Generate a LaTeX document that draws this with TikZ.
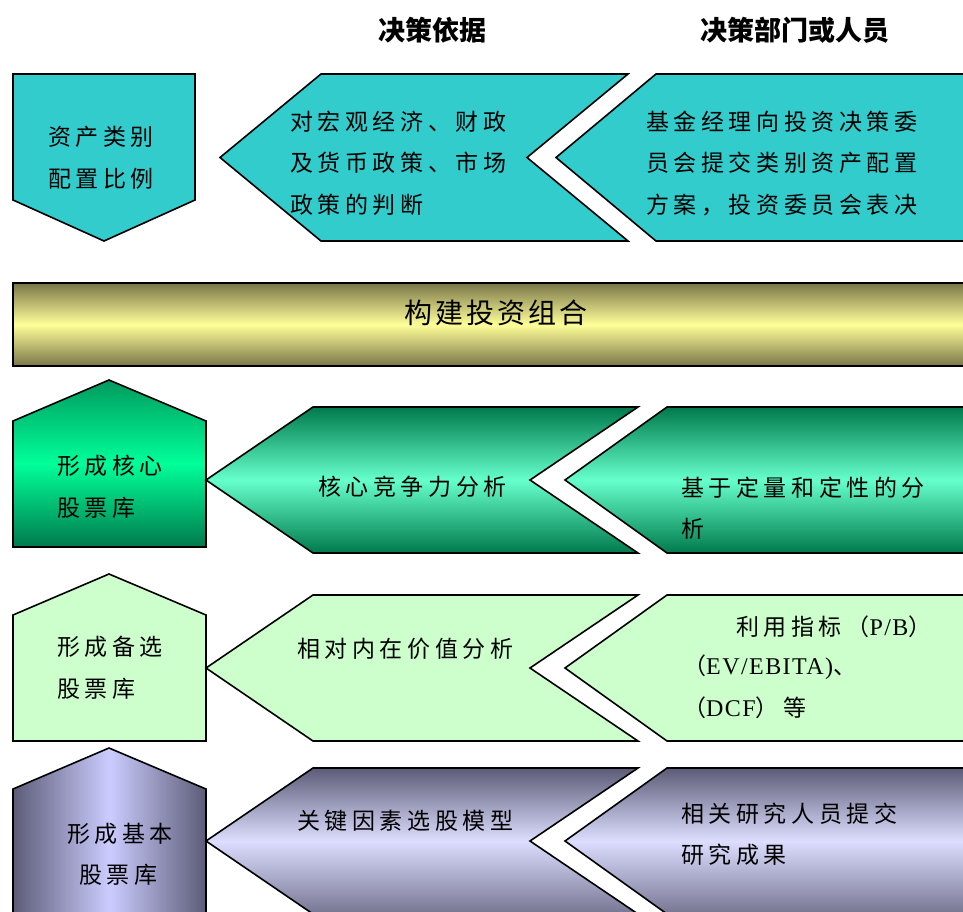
\documentclass[tikz,border=0pt]{standalone}
\usepackage{fontspec}
\newfontfamily\cjk[LetterSpace=20]{Noto Sans CJK SC}
\newfontfamily\cjkbar[LetterSpace=11]{Noto Sans CJK SC}
\newfontfamily\cjkhead{Noto Sans CJK SC}
\newfontfamily\lat[LetterSpace=6]{Liberation Serif}
\definecolor{cyanc}{HTML}{33CCCC}
\definecolor{olivedark}{HTML}{7A7648}
\definecolor{olivelight}{HTML}{FFFF99}
\definecolor{gdark}{HTML}{007A4C}
\definecolor{gbright}{HTML}{00FF99}
\definecolor{glight}{HTML}{66FFCC}
\definecolor{gtop}{HTML}{009A5E}
\definecolor{palegreen}{HTML}{CCFFCC}
\definecolor{pdark}{HTML}{5C5C78}
\definecolor{plight}{HTML}{CCCCFF}
\definecolor{plight2}{HTML}{DDDDFF}
\tikzset{
  shp/.style={draw=black, line width=1.6pt, line join=miter},
  cyanshape/.style={shp, fill=cyanc},
  oliveshade/.style={shp, top color=olivedark, bottom color=olivedark, middle color=olivelight},
  greenpent/.style={shp, top color=gtop, bottom color=gdark, middle color=gbright},
  greenchev/.style={shp, top color=gdark, bottom color=gdark, middle color=glight},
  paleshape/.style={shp, fill=palegreen},
  purplepent/.style={shp, left color=pdark, right color=pdark, middle color=plight},
  purplechev/.style={shp, top color=pdark, bottom color=pdark!80!plight2, middle color=plight2},
  txt/.style={inner sep=0pt, anchor=west, align=left, font=\fontsize{23}{41.5}\cjk},
  latin/.style={},
  head/.style={inner sep=0pt, font=\fontsize{27}{32}\cjkhead\bfseries},
}
\newcommand{\latt}[1]{{\lat\fontsize{24}{28}\selectfont #1}}
\begin{document}
\begin{tikzpicture}[x=1pt, y=-1pt]
\useasboundingbox (0,0) rectangle (963,911);
\clip (0,0) rectangle (963,911);
\fill[white] (0,0) rectangle (963,911);

% headers
\node[head] (h1) at (432,30) {决策依据};
\node[head] (h2) at (795,30) {决策部门或人员};

% row 1
\path[cyanshape] (13,74) -- (195,74) -- (195,200) -- (104,241) -- (13,200) -- cycle;
\path[cyanshape] (321,74) -- (628,74) -- (527,157.5) -- (628,241) -- (321,241) -- (220,157.5) -- cycle;
\path[cyanshape] (656,74) -- (990,74) -- (990,241) -- (656,241) -- (556,157.5) -- cycle;
\node[txt] (t1a) at (48,158) {资产类别\\配置比例};
\node[txt] (t1b) at (290,163) {对宏观经济、财政\\及货币政策、市场\\政策的判断};
\node[txt] (t1c) at (646,163) {基金经理向投资决策委\\员会提交类别资产配置\\方案，投资委员会表决};

% row 2
\path[oliveshade] (13,283) rectangle (990,366);
\node[inner sep=0pt, font=\fontsize{28}{32}\cjkbar] (t2) at (496,313) {构建投资组合};

% row 3
\path[greenpent] (109,380) -- (206,421) -- (206,547) -- (13,547) -- (13,421) -- cycle;
\path[greenchev] (313,407) -- (638,407) -- (530,480) -- (638,553) -- (313,553) -- (206,480) -- cycle;
\path[greenchev] (667,407) -- (990,407) -- (990,553) -- (667,553) -- (565,480) -- cycle;
\node[txt] (t3a) at (57,487) {形成核心\\股票库};
\node[txt] (t3b) at (318,487) {核心竞争力分析};
\node[txt] (t3c) at (681,508) {基于定量和定性的分\\析};

% row 4
\path[paleshape] (109,574) -- (206,615) -- (206,741) -- (13,741) -- (13,615) -- cycle;
\path[paleshape] (313,595) -- (638,595) -- (530,668) -- (638,741) -- (313,741) -- (206,668) -- cycle;
\path[paleshape] (667,595) -- (990,595) -- (990,741) -- (667,741) -- (565,668) -- cycle;
\node[txt] (t4a) at (57,668) {形成备选\\股票库};
\node[txt] (t4b) at (297,649) {相对内在价值分析};
\node[txt] (t4c1) at (736,627) {利用指标（\latt{P/B}）};
\node[txt] (t4c2) at (683,667) {（\latt{EV/EBITA)}、};
\node[txt] (t4c3) at (683,708) {（\latt{DCF}）等};

% row 5
\path[purplepent] (109,748) -- (206,789) -- (206,940) -- (13,940) -- (13,789) -- cycle;
\path[purplechev] (313,768) -- (638,768) -- (530,841) -- (638,914) -- (313,914) -- (206,841) -- cycle;
\path[purplechev] (667,768) -- (990,768) -- (990,914) -- (667,914) -- (565,841) -- cycle;
\node[txt] (t5a1) at (67,834) {形成基本};
\node[txt] (t5a2) at (79,875) {股票库};
\node[txt] (t5b) at (297,821) {关键因素选股模型};
\node[txt] (t5c) at (681,834) {相关研究人员提交\\研究成果};
\end{tikzpicture}
\end{document}
